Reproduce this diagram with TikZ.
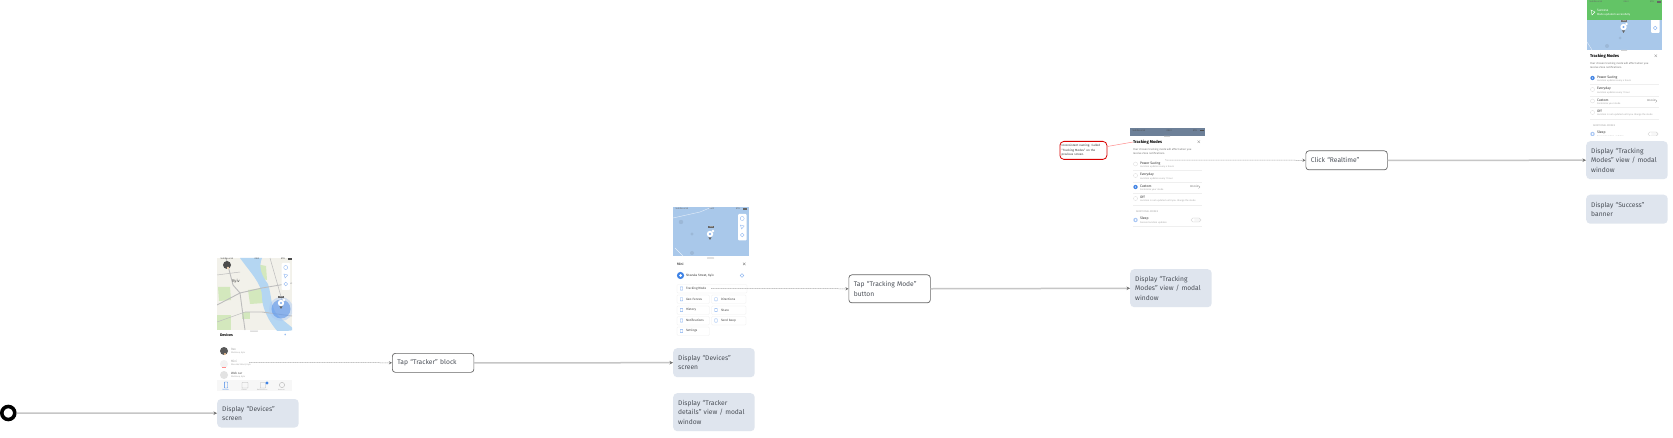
\documentclass[tikz,border=0pt]{standalone}
\usepackage{fontspec}
\setmainfont{Fira Sans}
\usetikzlibrary{arrows.meta}
\definecolor{boxfill}{HTML}{DFE5EE}
\definecolor{boxtext}{HTML}{4A4F57}
\definecolor{lineg}{HTML}{C6C6C6}
\definecolor{tipg}{HTML}{707070}
\definecolor{mapblue}{HTML}{A9C8EA}
\definecolor{river}{HTML}{B4D6F2}
\definecolor{land}{HTML}{F2F1EA}
\definecolor{park}{HTML}{D3E8BD}
\definecolor{road}{HTML}{BDBDBD}
\definecolor{bannerg}{HTML}{63C466}
\definecolor{slate}{HTML}{6D8098}
\definecolor{uiblue}{HTML}{3F83E6}
\definecolor{subg}{HTML}{A8A8A8}
\definecolor{hair}{HTML}{EFEFEF}
\newcounter{tn}
\newcommand{\ptext}[5][black]{\stepcounter{tn}\node[uitext,text=#1] (t\arabic{tn}) at (#2,#3) {\fontsize{#4}{#4}\selectfont #5};}
\newcommand{\pin}[2]{%
  \fill[white] (#1,#2) circle (3.2);
  \fill[uiblue!70] (#1,#2) circle (1.2);
  \fill[gray!80!black] (#1-1.6,#2+3.4) -- (#1+1.6,#2+3.4) -- (#1,#2+6) -- cycle;
  \fill[white] (#1+3,#2-3) circle (1.4);}
\newcommand{\maptools}[3]{%
  \fill[white,rounded corners=1pt] (#1,#2) rectangle (#1+8.5,#3);
  \draw[uiblue!60,line width=.35pt] (#1+4.2,#2+4.5) circle (2);
  \draw[uiblue!60,line width=.35pt] (#1+2.4,#2+11) -- (#1+6.2,#2+12) -- (#1+3.6,#2+15) -- cycle;
  \draw[uiblue!60,line width=.35pt] (#1+4.2,#2+21) circle (1.9);}
% modal content; origin = top-left of the phone 3 status bar
\newcommand{\modal}[3]{\begin{scope}[shift={(#1,#2)}]
  \fill[gray!35,rounded corners=.4pt] (34,7.8) rectangle (40,9);
  \ptext{3}{14}{4.1}{\textbf{Tracking Modes}}
  \draw[gray,line width=.3pt] (67.5,12.5) -- (70,15) (70,12.5) -- (67.5,15);
  \ptext[subg!70!black]{3}{22}{2.7}{Your chosen tracking mode will affect when you}
  \ptext[subg!70!black]{3}{25.5}{2.7}{receive Zone notifications.}
  \ptext[black!80]{10}{35.5}{3.4}{Power Saving}
  \ptext[subg]{10}{39.2}{2.4}{Location updates every 4 hours}
  \ptext[black!80]{10}{47}{3.4}{Everyday}
  \ptext[subg]{10}{50.6}{2.4}{Location updates every 1 hour}
  \ptext[black!80]{10}{58.5}{3.4}{Custom}
  \ptext[subg]{10}{62}{2.4}{Customize your mode}
  \ptext[subg!60!black]{60}{58.8}{2.8}{30 min}
  \draw[gray,line width=.3pt] (68.5,57.5) -- (70,59) -- (68.5,60.5);
  \ptext[black!80]{10}{69.5}{3.4}{Off}
  \ptext[subg]{10}{73}{2.4}{Location is not updated until you change the mode}
  \ptext[subg]{6}{84}{2.5}{ADDITIONAL MODES}
  \ptext[black!80]{10}{90.5}{3.4}{Sleep}
  \ptext[subg]{10}{95}{2.4}{Snooze location updates}
  \foreach \yy in {42.5,54,65.5,77,98} \draw[hair,line width=.3pt] (3,\yy) -- (72,\yy);
  \foreach \yy in {36,47.5,59,70.5} \draw[hair!80!gray,line width=.3pt] (5.5,\yy) circle (2);
  \fill[uiblue] (5.5,#3) circle (2.1);
  \fill[white] (5.5,#3) circle (.7);
  \fill[uiblue!45] (5.5,92) circle (2.2);
  \fill[white] (5.5,92) circle (1);
  \draw[gray!35,line width=.4pt,rounded corners=1.8pt,fill=gray!6] (61,90) rectangle (71,94);
  \fill[white] (63.2,92) circle (1.7);
\end{scope}}
\newcommand{\statusbar}[3]{%
  \ptext[#3]{#1+1.5}{#2}{2.2}{Vodafone UA}
  \stepcounter{tn}\node[uitext,text=#3,anchor=center] (t\arabic{tn}) at (#1+38,#2) {\fontsize{2.2}{2.2}\selectfont 09:41};
  \ptext[#3]{#1+62}{#2}{2.2}{87\%}
  \fill[#3] (#1+69,#2-.8) rectangle (#1+73,#2+.8);}
\tikzset{
  uitext/.style={anchor=west,inner sep=0pt,outer sep=0pt},
  dispbox/.style={anchor=north west,fill=boxfill,rounded corners=4pt,text=boxtext,align=left,
    text width=71.5pt,minimum width=81.5pt,inner xsep=5pt,inner ysep=0pt,
    font=\fontsize{6.7}{9.3}\selectfont},
  stepbox/.style={anchor=north west,fill=white,draw=black!60,line width=.7pt,rounded corners=3pt,
    text=boxtext,align=left,text width=71.5pt,minimum width=81.5pt,inner xsep=5pt,inner ysep=0pt,
    font=\fontsize{6.7}{9.3}\selectfont},
  notebox/.style={anchor=north west,fill=white,draw=red!85!black,line width=.8pt,rounded corners=4pt,
    text=black!80,align=left,text width=43.5pt,minimum width=47pt,minimum height=18pt,inner xsep=1.75pt,inner ysep=0pt,
    font=\fontsize{3}{4.4}\selectfont},
  flow/.style={draw=lineg,line width=1.5pt,-{Stealth[length=3.5pt,width=3.5pt,color=tipg]}},
  jump/.style={draw=gray!70,line width=.5pt,dash pattern=on 1.2pt off .5pt,-{Stealth[length=3pt,width=3pt,color=tipg]}},
  btn/.style={draw=hair,line width=.3pt,rounded corners=1.2pt,fill=white},
}
\begin{document}
\begin{tikzpicture}[x=1pt,y=-1pt]
\useasboundingbox (0,0) rectangle (1673,438);
\fill[white] (0,0) rectangle (1673,438);

% ---------- phone 1
\begin{scope}
  \clip (217,258) rectangle (292,330);
  \fill[land] (217,258) rectangle (292,330);
  \fill[park] (217,315) rectangle (231,330);
  \fill[park] (218,287) -- (230,287) -- (231,300) -- (219,301) -- cycle;
  \fill[park] (248,290) -- (263,288) -- (264,303) -- (250,304) -- cycle;
  \fill[park] (242,312) rectangle (250,319);
  \fill[park] (256,264) -- (266,266) -- (267,280) -- (258,278) -- cycle;
  \fill[river] (240,258) -- (262,258) .. controls (258,268) and (262,276) .. (268,284)
     .. controls (272,296) and (270,306) .. (278,316) -- (295,330) -- (278,332)
     .. controls (266,318) and (262,306) .. (262,296) .. controls (262,284) and (250,272) .. cycle;
  \draw[road,line width=.9pt] (217,305) -- (240,293) -- (262,288) -- (292,283);
  \draw[road,line width=.9pt] (226,258) -- (233,285) -- (240,293) -- (245,330);
  \draw[road,line width=.9pt] (245,312) -- (262,312) -- (292,316);
  \draw[road,line width=.5pt] (217,275) -- (240,272) (217,322) -- (245,312) (270,258) -- (282,300);
  \fill[uiblue!45,opacity=.45] (281,309) circle (12);
  \fill[uiblue!90,opacity=.55] (281,309) circle (9.5);
\end{scope}
\statusbar{219}{259}{black!70}
\fill[black!70] (227,265) circle (4);
\fill[white!75!orange] (228,268) circle (1.3);
\ptext[black!70]{232}{281.5}{4.2}{Kyiv}
\maptools{281.5}{263}{290}
\stepcounter{tn}\node[fill=black!60,text=white,inner xsep=1pt,inner ysep=.4pt,font=\fontsize{1.8}{2}\selectfont] (t\arabic{tn}) at (281,297) {1 min};
\pin{281}{303}
\fill[gray!40,rounded corners=.3pt] (250,330.5) rectangle (258,331.5);
\ptext{220}{335}{3.7}{\textbf{Devices}}
\ptext[uiblue]{284}{335}{4.5}{+}
\fill[black!65] (224,351) circle (4);
\fill[orange!40] (225,354) circle (1.2);
\ptext[subg]{231}{349}{3.1}{Rex}
\ptext[subg]{231}{353.2}{2.2}{Shelkova, Kyiv}
\fill[gray!10] (224,364) circle (4);
\fill[red!45] (222,367) rectangle (226,368);
\ptext[subg]{231}{361}{3.1}{Mini}
\ptext[subg]{231}{365.3}{2.2}{Shevska Street, Kyiv}
\coordinate (mini) at (249,362.5);
\fill[gray!22] (224,375) circle (4);
\ptext[black!70]{231}{373}{3.1}{Web car}
\ptext[subg]{231}{377.2}{2.2}{Shelkova, Kyiv}
\fill[gray!6] (217,380) rectangle (292,391);
\draw[uiblue,line width=.4pt,rounded corners=.4pt] (224.3,382) rectangle (227.7,388);
\draw[gray!60,line width=.4pt,rounded corners=.4pt] (242,382.5) rectangle (248,388);
\draw[gray!60,line width=.4pt,rounded corners=.4pt] (260.5,382.5) rectangle (265.5,388);
\fill[uiblue] (267,383) circle (1.6);
\draw[gray!60,line width=.4pt] (282,385) circle (2.6);
\ptext[uiblue]{222.5}{389.5}{1.8}{Devices}
\ptext[subg]{241.5}{389.5}{1.8}{Places}
\ptext[subg]{257}{389.5}{1.8}{Notifications}
\ptext[subg]{278}{389.5}{1.8}{Account}

% ---------- phone 2
\fill[mapblue] (673,207) rectangle (749,256);
\draw[white!70!mapblue,line width=.4pt] (673,218) -- (700,212) -- (712,207) (675,248) -- (683,256);
\fill[mapblue!92!black] (681,222) circle (2.2) (692,234) circle (1.6) (692,253) circle (2);
\statusbar{674}{209}{black!60}
\maptools{738}{214}{240.5}
\stepcounter{tn}\node[fill=black!60,text=white,inner xsep=1.2pt,inner ysep=.4pt,font=\fontsize{1.8}{2}\selectfont] (t\arabic{tn}) at (711,227) {1 min};
\pin{710}{234}
\fill[gray!35,rounded corners=.4pt] (707,257.5) rectangle (714,258.7);
\ptext{677}{264}{3.4}{Mini}
\draw[gray,line width=.3pt] (743,262.7) -- (745.5,265.2) (745.5,262.7) -- (743,265.2);
\fill[uiblue] (680.5,275.5) circle (3.6);
\fill[white] (680.5,275.5) circle (1.5);
\ptext[black!80]{686}{275.7}{3.1}{Shevska Street, Kyiv}
\draw[uiblue!70,line width=.4pt] (742,275.5) circle (1.9);
\draw[btn] (677,284.3) rectangle (747,293);
\draw[btn] (677,295) rectangle (709.5,303.5);
\draw[btn] (711.5,295) rectangle (746,303.5);
\draw[btn] (677,306) rectangle (709.5,314.5);
\draw[btn] (711.5,306) rectangle (746,314.5);
\draw[btn] (677,316.5) rectangle (709.5,325);
\draw[btn] (711.5,316.5) rectangle (746,325);
\draw[btn] (677,327) rectangle (709.5,335.5);
\ptext[black!75]{686}{288.5}{3.1}{Tracking Mode}
\coordinate (trackbtn) at (711,288.5);
\ptext[black!75]{686}{299.3}{3.1}{Geo-Fences}
\ptext[black!75]{721}{299.3}{3.1}{Directions}
\ptext[black!75]{686}{310}{3.1}{History}
\ptext[black!75]{721}{310}{3.1}{Share}
\ptext[black!75]{686}{320.5}{3.1}{Notifications}
\ptext[black!75]{721}{320.5}{3.1}{Send beep}
\ptext[black!75]{686}{331}{3.1}{Settings}
\foreach \ix/\iy in {681.5/288.5,681.5/299.3,681.5/320.5,681.5/331,716/299.3,716/320.5,681.5/310,716/310}
  \draw[uiblue!65,line width=.35pt,rounded corners=.3pt] (\ix-1.3,\iy-1.6) rectangle (\ix+1.3,\iy+1.6);

% ---------- phone 3
\fill[slate] (1130,128) rectangle (1205,136);
\statusbar{1131}{130.5}{black!70}
\modal{1130}{128}{59}
\coordinate (modaltitle) at (1133,142);
\coordinate (realtime) at (1165,160);

% ---------- phone 4
\begin{scope}
  \clip (1587,0) rectangle (1662,136);
  \fill[mapblue] (1587,20.5) rectangle (1662,50);
  \draw[white!70!mapblue,line width=.4pt] (1587,42) -- (1592,50);
  \fill[mapblue!92!black] (1607,46) circle (2) (1620,38) circle (1.5);
  \pin{1623.5}{27}
  \stepcounter{tn}\node[fill=black!55,text=white,inner xsep=1pt,inner ysep=.3pt,font=\fontsize{1.8}{2}\selectfont] (t\arabic{tn}) at (1624,21) {1 min};
  \fill[white,rounded corners=1pt] (1651,19) rectangle (1659.5,33);
  \draw[uiblue!70,line width=.35pt] (1655.2,28) circle (1.9);
  \fill[bannerg] (1587,0) rectangle (1662,20.5);
  \statusbar{1588}{2}{black!60}
  \draw[white,line width=.4pt] (1591,10) -- (1595,12) -- (1592,15) -- cycle;
  \ptext[white]{1597}{10}{3.2}{Success}
  \ptext[white]{1597}{15}{2.7}{Mode updated successfully}
  \modal{1587}{42}{36}
\end{scope}

% ---------- flow nodes
\node[draw=black,line width=3.6pt,fill=white,circle,minimum size=13pt,inner sep=0pt] (start) at (8.3,413) {};
\node[dispbox,minimum height=28.5pt] (dispA) at (217,398.8) {Display “Devices”\\screen};
\node[stepbox,minimum height=19pt] (tapA) at (392,353) {Tap “Tracker” block};
\node[dispbox,minimum height=29pt] (dispB) at (673,348) {Display “Devices”\\screen};
\node[dispbox,minimum height=38pt] (dispC) at (673,393) {Display “Tracker\\details” view / modal\\window};
\node[stepbox,minimum height=28pt] (tapB) at (848.5,274.5) {Tap “Tracking Mode”\\button};
\node[dispbox,minimum height=38pt] (dispD) at (1130,269) {Display “Tracking\\Modes” view / modal\\window};
\node[notebox] (note) at (1059.5,141) {Inconsistent naming. Called\\“Tracking Modes” on the\\previous screen.};
\node[stepbox,minimum height=19pt] (tapC) at (1305.5,150.5) {Click “Realtime”};
\node[dispbox,minimum height=38pt] (dispE) at (1586,141) {Display “Tracking\\Modes” view / modal\\window};
\node[dispbox,minimum height=29pt] (dispF) at (1586,194.5) {Display “Success”\\banner};

% ---------- connectors
\draw[flow] (start) -- (dispA);
\draw[jump] (mini) -- (tapA);
\draw[flow] (tapA) -- (dispB);
\draw[jump] (trackbtn) -- (tapB);
\draw[flow] (tapB) -- (dispD);
\draw[red!45,line width=.5pt] (note.east |- 0,146.5) -- (modaltitle);
\draw[jump] (realtime) -- (tapC);
\draw[flow] (tapC) -- (dispE);
\end{tikzpicture}
\end{document}
